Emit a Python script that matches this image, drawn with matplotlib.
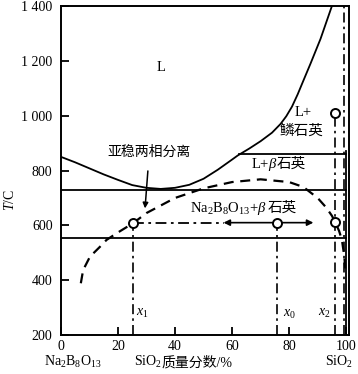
import numpy as np
import matplotlib
matplotlib.use("Agg")
import matplotlib.pyplot as plt

plt.rcParams['font.family'] = ['Liberation Serif', 'Noto Sans CJK SC']
plt.rcParams['mathtext.fontset'] = 'custom'
plt.rcParams['mathtext.rm'] = 'Liberation Serif'
plt.rcParams['mathtext.it'] = 'Liberation Serif:italic'

# liquidus (solid curve)
liq_x = [0, 5, 10, 15, 20, 25, 30, 35, 40, 45, 50, 55, 60, 62, 66, 70, 74, 77, 79, 81, 83, 85, 87.5, 91, 95]
liq_T = [850, 830, 808, 786, 766, 747, 737, 733, 737, 748, 770, 803, 840, 855, 880, 907, 938, 970, 998, 1033, 1078, 1128, 1190, 1280, 1400]

# metastable immiscibility dome (dashed)
dome_x = [7, 7.8, 10.2, 13.7, 16, 19.5, 25.3, 30, 40, 50, 60, 70, 80, 85, 90, 93, 95, 96.1, 97.5, 98.5, 99.3, 99.8]
dome_T = [389, 437, 486, 522, 547, 571, 608, 645, 700, 735, 758, 768, 758, 740, 700, 665, 635, 613, 580, 547, 490, 430]

# isotherms
iso_T = [730, 555]
iso_upper_T = 860
iso_upper_x0 = 62.5

# compositions
x1, x0, x2 = 25.3, 75.9, 96.1
T_sep = 610
T_trid = 1010
arrow_left, arrow_right = 57, 88.5

xticks = [0, 20, 40, 60, 80, 100]
yticks = [200, 400, 600, 800, 1000, 1200, 1400]
ytick_labels = ['200', '400', '600', '800', '1 000', '1 200', '1 400']

fig = plt.figure(figsize=(3.58, 3.74), dpi=100)
ax = fig.add_axes([0.170, 0.104, 0.805, 0.880])

lw = 1.3
ax.plot(liq_x, liq_T, color='black', lw=lw)
ax.plot(dome_x, dome_T, color='black', lw=1.6, linestyle=(0, (4.5, 3)))
for t in iso_T:
    ax.plot([0, 100], [t, t], color='black', lw=lw)
ax.plot([iso_upper_x0, 100], [iso_upper_T, iso_upper_T], color='black', lw=lw)
ax.plot([100, 100], [200, iso_upper_T + 10], color='black', lw=lw)

dd = (0, (6, 2.5, 1.5, 2.5))
ax.plot([99.2, 99.2], [200, 1400], color='black', lw=1.2, linestyle=dd)
ax.plot([x1, x1], [200, T_sep], color='black', lw=1.2, linestyle=dd)
ax.plot([x0, x0], [200, T_sep], color='black', lw=1.2, linestyle=dd)
ax.plot([x2, x2], [200, T_trid], color='black', lw=1.2, linestyle=dd)
ax.plot([x1, arrow_left], [T_sep, T_sep], color='black', lw=1.3, linestyle=dd)
ax.annotate('', xy=(arrow_left, T_sep), xytext=(arrow_right, T_sep),
            arrowprops=dict(arrowstyle='<|-|>', color='black', lw=1.2,
                            mutation_scale=9, shrinkA=0, shrinkB=0))

ax.plot([x1, x0, x2, x2], [T_sep, T_sep, T_sep + 3, T_trid], 'o', ms=6.5,
        mfc='white', mec='black', mew=1.4, linestyle='none', zorder=5)

ax.annotate('亚稳两相分离', xy=(29.5, 662), xytext=(31, 868),
            ha='center', va='center', fontsize=10,
            arrowprops=dict(arrowstyle='-|>', color='black', lw=1.1,
                            mutation_scale=8, shrinkA=7, shrinkB=0))


def two_part(x, y, left, right, fs, transform=None):
    # math part ends and CJK part starts at x, both on one baseline
    tr = transform if transform is not None else ax.transData
    ax.text(x, y, left, ha='right', va='baseline', fontsize=fs, transform=tr)
    ax.text(x, y, right, ha='left', va='baseline', fontsize=fs, transform=tr)


fs = 10.5
ax.text(35, 1175, 'L', ha='center', va='center', fontsize=fs)
ax.text(85, 1010, 'L+', ha='center', va='center', fontsize=fs)
ax.text(84.4, 942, '鳞石英', ha='center', va='center', fontsize=fs)
two_part(75.8, 810, r'L+$\beta$', '石英', fs)
two_part(72.3, 650, r'Na$_2$B$_8$O$_{13}$+$\beta$', '石英', fs)
ax.text(26.5, 280, r'$x_1$', ha='left', va='center', fontsize=10)
ax.text(77.8, 275, r'$x_0$', ha='left', va='center', fontsize=10)
ax.text(94.6, 280, r'$x_2$', ha='right', va='center', fontsize=10)

ax.set_xlim(0, 101)
ax.set_ylim(200, 1400)
ax.set_xticks(xticks)
ax.set_xticklabels([str(v) for v in xticks])
ax.set_yticks(yticks)
ax.set_yticklabels(ytick_labels)
ax.tick_params(direction='in', length=6, width=1.3, labelsize=10)
ax.tick_params(axis='y', pad=6)
ax.tick_params(axis='x', pad=3.5)
for s in ax.spines.values():
    s.set_linewidth(1.4)

xt = ax.get_xaxis_transform()
ax.text(4.2, -0.094, r'Na$_2$B$_8$O$_{13}$', transform=xt,
        ha='center', va='baseline', fontsize=10)
two_part(35.3, -0.094, r'SiO$_2$', '质量分数/%', 10, transform=xt)
ax.text(97.5, -0.094, r'SiO$_2$', transform=xt,
        ha='center', va='baseline', fontsize=10)
ax.text(-0.177, 0.41, r'$T$/C', transform=ax.transAxes, rotation=90,
        ha='center', va='center', fontsize=10)

fig.savefig('out.png', dpi=100)
